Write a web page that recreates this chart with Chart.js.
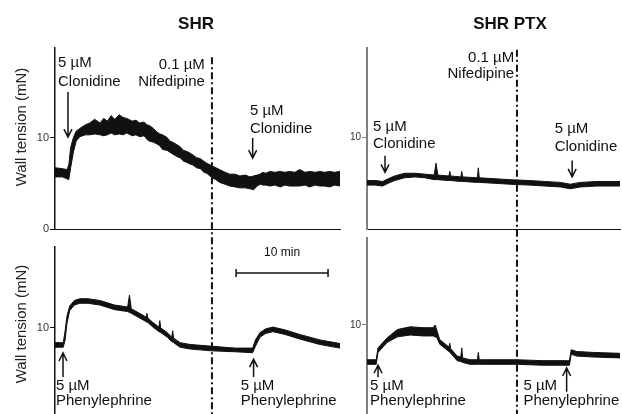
<!DOCTYPE html>
<html>
<head>
<meta charset="utf-8">
<script src="https://cdn.jsdelivr.net/npm/chart.js@4.4.1/dist/chart.umd.min.js"></script>
<style>
  html, body { margin: 0; padding: 0; background: #fff; overflow: hidden; }
  canvas { position: absolute; left: 0; top: 0; }
</style>
</head>
<body>
<canvas id="shrClon" width="622" height="430"></canvas>
<canvas id="ptxClon" width="622" height="430"></canvas>
<canvas id="shrPhe" width="622" height="430"></canvas>
<canvas id="ptxPhe" width="622" height="430"></canvas>
<script>
// time in min, wall tension in mN (upper / lower edge of the noisy trace)
const shrClonT  = [0,0.8,1.3,1.5,1.7,2.0,2.3,2.7,3.3,3.8,4.3,4.9,5.3,5.7,6.1,6.5,7.0,7.4,7.8,8.4,8.8,9.2,9.7,10.0,10.3,10.7,11.1,11.4,11.7,12.2,12.5,12.8,13.3,13.6,14.0,14.3,14.7,15.0,15.4,15.8,16.2,16.5,17.1,17.5,17.9,18.5,19.0,19.6,20.1,20.7,21.2,21.6,22.0,22.3,22.6,22.9,23.4,23.9,24.5,25.0,25.5,26.1,26.6,27.2,27.7,28.3,28.8,29.3,29.9,30.4,31.0];
const shrClonHi = [6.7,6.6,6.5,7.0,8.9,10.0,10.7,11.0,11.4,11.6,12.0,11.6,12.1,11.8,12.4,12.0,12.5,12.2,12.1,11.8,11.9,11.6,11.7,11.4,11.3,11.0,10.6,10.4,10.3,10.0,9.6,9.5,9.2,9.0,8.6,8.5,8.3,8.1,7.8,7.7,7.4,7.2,6.9,6.7,6.5,6.2,6.0,6.0,5.8,5.9,5.7,5.8,5.9,6.0,6.2,6.1,6.3,6.2,6.3,6.2,6.3,6.2,6.5,6.2,6.3,6.2,6.3,6.2,6.3,6.2,6.3];
const shrClonLo = [5.7,5.7,5.5,5.4,6.7,8.4,9.6,10.1,10.3,10.3,10.4,10.3,10.2,10.3,10.5,10.3,10.4,10.3,10.5,10.2,10.3,10.1,10.2,9.8,9.6,9.5,9.3,9.1,8.7,8.6,8.4,8.2,7.9,7.8,7.4,7.3,7.1,7.0,6.7,6.6,6.2,6.1,5.6,5.4,5.1,4.9,4.7,4.6,4.5,4.5,4.4,4.3,4.7,4.9,4.8,4.8,4.7,4.8,4.6,4.8,4.7,4.7,4.7,4.8,4.6,4.8,4.7,4.7,4.6,4.8,4.7];

const ptxClonT  = [0,0.9,1.7,2.3,3.0,4.1,5.2,6.3,7.3,7.5,7.7,8.9,9.0,9.1,10.2,10.3,10.4,12.0,12.1,12.2,13.9,15.5,17.7,19.3,21.0,22.1,23.2,25.0,27.5];
const ptxClonHi = [5.3,5.3,5.2,5.5,5.8,6.1,6.1,6.0,5.9,7.2,5.9,5.8,6.3,5.8,5.7,6.3,5.7,5.6,6.7,5.6,5.5,5.4,5.3,5.2,5.1,4.9,5.1,5.2,5.2];
const ptxClonLo = [4.8,4.8,4.7,5.0,5.3,5.6,5.7,5.6,5.4,5.4,5.4,5.3,5.3,5.3,5.2,5.2,5.2,5.1,5.1,5.1,5.0,4.9,4.8,4.7,4.6,4.4,4.6,4.7,4.7];

const shrPheT  = [0,0.9,1.1,1.3,1.6,2.1,2.7,3.6,4.9,6.5,7.9,8.1,8.3,9.2,9.9,10.0,10.1,10.65,11.3,11.4,11.5,12.2,12.7,12.8,12.9,13.6,14.7,17.1,19.6,21.5,21.8,22.3,22.9,23.7,25.0,26.6,28.8,31.0];
const shrPheHi = [8.4,8.4,9.7,11.3,12.4,13.0,13.2,13.2,13.0,12.5,12.3,13.6,12.1,11.6,11.2,11.6,11.1,10.6,10.1,10.8,10.0,9.5,9.0,9.7,8.9,8.4,8.2,8.0,7.8,7.8,8.7,9.5,9.9,10.1,9.8,9.3,8.7,8.3];
const shrPheLo = [7.9,7.9,8.7,10.5,11.9,12.5,12.7,12.7,12.5,12.0,11.8,11.7,11.6,11.1,10.7,10.65,10.6,10.1,9.6,9.55,9.5,9.0,8.5,8.45,8.4,7.9,7.7,7.5,7.4,7.3,8.0,9.0,9.4,9.6,9.3,8.8,8.2,7.8];

const ptxPheT  = [0,1.0,1.2,2.2,3.3,4.7,6.1,7.2,7.4,7.6,7.9,8.9,9.0,9.1,9.8,10.2,10.3,10.4,11.2,12.0,12.1,12.2,13.0,16.3,19.1,21.7,22.0,22.2,22.8,24.6,27.5];
const ptxPheHi = [6.2,6.2,7.5,8.6,9.5,9.8,9.7,9.7,10.0,9.4,8.4,7.6,8.0,7.4,6.6,6.5,7.5,6.4,6.2,6.2,7.0,6.2,6.2,6.2,6.1,6.1,6.1,7.3,7.1,7.0,6.9];
const ptxPheLo = [5.7,5.7,7.0,8.1,8.7,8.9,8.8,8.8,8.7,8.6,7.9,7.1,7.0,6.9,6.1,6.0,5.95,5.9,5.7,5.7,5.7,5.7,5.7,5.7,5.6,5.6,5.6,6.8,6.6,6.5,6.4];

const leftTicks = [0, 10];
const rightTicks = [10];
const INK = '#111';
const FONT = '"Liberation Sans", Arial, sans-serif';

// labels, arrows, drug line, scale bar, titles
const overlay = {
  id: 'overlay',
  afterDatasetsDraw(chart, args, o) {
    const { ctx, scales: { x, y } } = chart;
    const px = t => x.getPixelForValue(t);
    const py = v => y.getPixelForValue(v);
    ctx.save();
    ctx.fillStyle = INK;
    ctx.strokeStyle = INK;

    if (o.drugT != null) {
      ctx.lineWidth = 2;
      ctx.setLineDash([7, 3, 2, 3]);
      ctx.beginPath();
      ctx.moveTo(px(o.drugT), py(o.drugTop));
      ctx.lineTo(px(o.drugT), chart.height);
      ctx.stroke();
      ctx.setLineDash([]);
    }

    ctx.font = '15px ' + FONT;
    ctx.textBaseline = 'alphabetic';
    (o.notes || []).forEach(n => {
      ctx.textAlign = n.align || 'left';
      ctx.fillText(n.text, px(n.t), py(n.v));
    });

    ctx.lineWidth = 1.5;
    (o.arrows || []).forEach(a => {
      const ax = px(a.t), y0 = py(a.from), y1 = py(a.to);
      const d = Math.sign(y1 - y0);
      ctx.beginPath();
      ctx.moveTo(ax, y0); ctx.lineTo(ax, y1);
      ctx.moveTo(ax - 4, y1 - d * 8); ctx.lineTo(ax, y1); ctx.lineTo(ax + 4, y1 - d * 8);
      ctx.stroke();
    });

    if (o.bar) {
      const x0 = px(o.bar.t0), x1 = px(o.bar.t1), by = py(o.bar.v);
      ctx.lineWidth = 1.5;
      ctx.beginPath();
      ctx.moveTo(x0, by); ctx.lineTo(x1, by);
      ctx.moveTo(x0, by - 4); ctx.lineTo(x0, by + 4);
      ctx.moveTo(x1, by - 4); ctx.lineTo(x1, by + 4);
      ctx.stroke();
      ctx.font = '12px ' + FONT;
      ctx.textAlign = 'center';
      ctx.textBaseline = 'middle';
      ctx.fillText(o.bar.label, (x0 + x1) / 2, py(o.bar.labelV));
    }

    if (o.title) {
      ctx.font = 'bold 17px ' + FONT;
      ctx.textAlign = 'center';
      ctx.textBaseline = 'middle';
      ctx.fillText(o.title.text, o.title.x, o.title.y);
    }

    if (o.yTitle) {
      ctx.font = '15px ' + FONT;
      ctx.textAlign = 'center';
      ctx.textBaseline = 'middle';
      ctx.translate(o.yTitle.x, o.yTitle.y);
      ctx.rotate(-Math.PI / 2);
      ctx.fillStyle = '#222';
      ctx.fillText('Wall tension (mN)', 0, 0);
    }
    ctx.restore();
  }
};

function panel(id, p) {
  const pts = arr => p.t.map((t, i) => ({ x: t, y: arr[i] }));
  return new Chart(document.getElementById(id), {
    type: 'line',
    data: {
      datasets: [
        { data: pts(p.hi), borderColor: INK, borderWidth: 1, pointRadius: 0, fill: false },
        { data: pts(p.lo), borderColor: INK, borderWidth: 1, pointRadius: 0, fill: '-1', backgroundColor: INK }
      ]
    },
    options: {
      responsive: false,
      animation: false,
      devicePixelRatio: 1,
      layout: { padding: p.pad },
      plugins: { legend: { display: false }, tooltip: { enabled: false }, overlay: p.overlay },
      scales: {
        x: {
          type: 'linear', min: 0, max: p.tMax, display: p.baseLine,
          ticks: { display: false }, grid: { display: false },
          border: { display: true, color: INK, width: 1 },
          afterFit: s => { s.height = 0; }
        },
        y: {
          min: 0, max: p.vMax,
          afterBuildTicks: s => { s.ticks = p.ticks.map(v => ({ value: v })); },
          ticks: { font: { family: FONT, size: p.tickSize }, color: '#333', padding: 1 },
          grid: { drawOnChartArea: false, tickLength: 5, color: p.axisColor },
          border: { color: p.axisColor, width: p.axisWidth },
          afterFit: s => { s.width = 24; }
        }
      }
    },
    plugins: [overlay]
  });
}

panel('shrClon', {
  t: shrClonT, hi: shrClonHi, lo: shrClonLo, tMax: 31, vMax: 19.8, ticks: leftTicks,
  pad: { left: 31, top: 48, right: 282, bottom: 201 }, baseLine: true,
  axisColor: INK, axisWidth: 1.5, tickSize: 11,
  overlay: {
    drugT: 17.07, drugTop: 18.8,
    notes: [
      { text: '5 \u00b5M', t: 0.33, v: 17.7 }, { text: 'Clonidine', t: 0.33, v: 15.6 },
      { text: '0.1 \u00b5M', t: 16.3, v: 17.5, align: 'right' }, { text: 'Nifedipine', t: 16.3, v: 15.6, align: 'right' },
      { text: '5 \u00b5M', t: 21.2, v: 12.5 }, { text: 'Clonidine', t: 21.2, v: 10.5 }
    ],
    arrows: [{ t: 1.41, from: 15.0, to: 10.05 }, { t: 21.5, from: 9.95, to: 7.76 }],
    title: { text: 'SHR', x: 196, y: 24 },
    yTitle: { x: 22, y: 127 }
  }
});

panel('ptxClon', {
  t: ptxClonT, hi: ptxClonHi, lo: ptxClonLo, tMax: 27.5, vMax: 19.8, ticks: rightTicks,
  pad: { left: 343, top: 48, right: 2, bottom: 201 }, baseLine: true,
  axisColor: '#808080', axisWidth: 2, tickSize: 10,
  overlay: {
    drugT: 16.3, drugTop: 19.6,
    notes: [
      { text: '0.1 \u00b5M', t: 16.0, v: 18.25, align: 'right' }, { text: 'Nifedipine', t: 16.0, v: 16.5, align: 'right' },
      { text: '5 \u00b5M', t: 0.65, v: 10.7 }, { text: 'Clonidine', t: 0.65, v: 8.85 },
      { text: '5 \u00b5M', t: 20.4, v: 10.5 }, { text: 'Clonidine', t: 20.4, v: 8.5 }
    ],
    arrows: [{ t: 1.96, from: 8.0, to: 6.2 }, { t: 22.3, from: 7.5, to: 5.7 }],
    title: { text: 'SHR PTX', x: 510, y: 24 }
  }
});

panel('shrPhe', {
  t: shrPheT, hi: shrPheHi, lo: shrPheLo, tMax: 31, vMax: 18.85, ticks: leftTicks,
  pad: { left: 31, top: 247, right: 282, bottom: 10.5 }, baseLine: false,
  axisColor: INK, axisWidth: 1.5, tickSize: 11,
  overlay: {
    notes: [
      { text: '5 \u00b5M', t: 0.1, v: 3.2 }, { text: 'Phenylephrine', t: 0.1, v: 1.6 },
      { text: '5 \u00b5M', t: 20.2, v: 3.2 }, { text: 'Phenylephrine', t: 20.2, v: 1.6 }
    ],
    arrows: [{ t: 0.87, from: 4.64, to: 7.27 }, { t: 21.6, from: 4.64, to: 6.6 }],
    bar: { t0: 19.7, t1: 29.7, v: 16.0, label: '10 min', labelV: 18.2 },
    yTitle: { x: 22, y: 324 }
  }
});

panel('ptxPhe', {
  t: ptxPheT, hi: ptxPheHi, lo: ptxPheLo, tMax: 27.5, vMax: 19.5, ticks: rightTicks,
  pad: { left: 343, top: 238, right: 2, bottom: 13.5 }, baseLine: false,
  axisColor: '#808080', axisWidth: 2, tickSize: 10,
  overlay: {
    notes: [
      { text: '5 \u00b5M', t: 0.33, v: 2.9 }, { text: 'Phenylephrine', t: 0.33, v: 1.26 },
      { text: '5 \u00b5M', t: 17.0, v: 2.9 }, { text: 'Phenylephrine', t: 17.0, v: 1.26 }
    ],
    arrows: [{ t: 1.2, from: 4.3, to: 5.6 }, { t: 21.7, from: 2.7, to: 5.3 }]
  }
});
</script>
</body>
</html>
